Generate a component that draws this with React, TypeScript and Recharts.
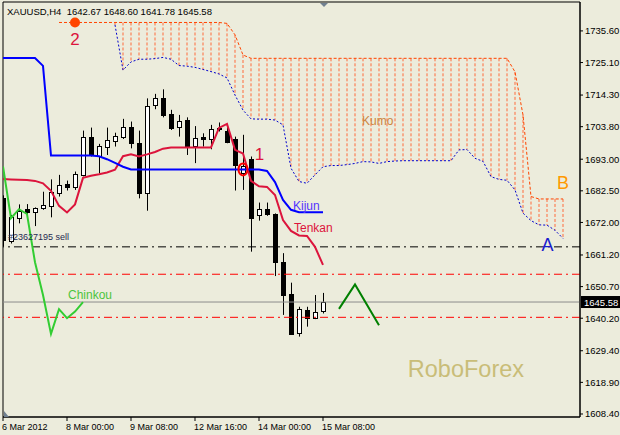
import React from 'react';
import {
    ComposedChart,
    Bar,
    Line,
    XAxis,
    YAxis,
    ReferenceLine,
    ReferenceDot,
    ReferenceArea,
} from 'recharts';

const FONT = "'Liberation Sans', Arial, sans-serif";
const BG = '#ECECDC';

// price axis labels and time labels (bar index -> label)
const priceTicks = [1608.4, 1618.9, 1629.4, 1640.2, 1650.7, 1661.2, 1672.0, 1682.5, 1693.0, 1703.8, 1714.3, 1725.1, 1735.6];
const timeTicks = [0, 8, 16, 24, 32, 40];
const timeLabels = ['6 Mar 2012', '8 Mar 00:00', '9 Mar 08:00', '12 Mar 16:00', '14 Mar 00:00', '15 Mar 08:00'];

// XAUUSD H4 candles, 6 Mar 16:00 .. 15 Mar 08:00
const opens = [
    1680.0, 1666.0, 1673.4, 1676.5, 1675.4, 1676.7, 1677.6, 1681.9, 1684.7, 1683.7,
    1687.8, 1700.5, 1694.1, 1697.2, 1699.2, 1700.5, 1703.8, 1698.5, 1681.9, 1711.0,
    1713.2, 1708.0, 1703.6, 1706.0, 1697.5, 1700.3, 1699.6, 1703.2, 1702.5, 1699.6,
    1688.3, 1693.0, 1674.5, 1676.4, 1674.8, 1658.8, 1648.3, 1635.2, 1642.9, 1640.2,
    1642.67,
];
const highs = [
    1681.0, 1674.5, 1678.0, 1678.1, 1677.0, 1682.2, 1686.3, 1687.8, 1685.9, 1688.9,
    1702.5, 1703.5, 1698.1, 1703.5, 1701.8, 1706.4, 1705.5, 1702.5, 1713.2, 1714.7,
    1716.2, 1709.4, 1707.7, 1706.9, 1704.0, 1701.6, 1704.4, 1705.2, 1704.4, 1700.5,
    1701.1, 1693.9, 1678.6, 1678.6, 1675.0, 1661.8, 1652.0, 1644.0, 1644.0, 1647.9,
    1648.6,
];
const lows = [
    1664.0, 1665.0, 1671.7, 1674.5, 1670.8, 1676.2, 1673.7, 1680.6, 1682.6, 1682.8,
    1687.3, 1693.9, 1688.3, 1694.4, 1697.2, 1699.7, 1696.6, 1680.0, 1675.9, 1709.6,
    1706.9, 1702.7, 1700.5, 1694.4, 1691.7, 1697.2, 1696.3, 1702.2, 1698.3, 1682.6,
    1682.8, 1662.3, 1672.6, 1674.2, 1654.2, 1641.3, 1634.7, 1634.1, 1637.4, 1639.9,
    1641.78,
];
const closes = [
    1666.2, 1673.8, 1675.9, 1675.4, 1676.7, 1677.8, 1682.0, 1684.4, 1683.9, 1688.1,
    1700.5, 1694.4, 1697.4, 1699.4, 1700.7, 1703.6, 1698.3, 1681.9, 1710.7, 1713.2,
    1707.7, 1703.3, 1705.8, 1697.4, 1700.2, 1699.7, 1702.9, 1703.0, 1698.8, 1691.1,
    1690.6, 1673.4, 1676.4, 1674.8, 1658.8, 1647.9, 1635.0, 1643.2, 1640.2, 1642.4,
    1645.58,
];

// Ichimoku lines
const tenkan = [
    1686.4, 1686.3, 1686.2, 1686.1, 1685.8, 1685.0, 1682.5, 1677.5, 1675.3, 1678.0,
    1686.8, 1687.5, 1688.0, 1688.6, 1689.5, 1694.0, 1694.6, 1693.9, 1694.6, 1695.4,
    1696.5, 1696.9, 1696.9, 1696.9, 1696.9, 1696.9, 1696.9, 1703.4, 1704.7, 1696.1,
    1694.9, 1685.8, 1684.0, 1683.8, 1681.1, 1672.8, 1669.2, 1667.7, 1667.5, 1663.9,
    1657.9,
];
const kijun = [
    1726.6, 1726.6, 1726.6, 1726.6, 1726.6, 1724.0, 1694.2, 1694.2, 1694.2, 1694.2,
    1694.2, 1694.2, 1694.0, 1693.0, 1691.8, 1690.5, 1689.6, 1689.6, 1689.6, 1689.6,
    1689.6, 1689.6, 1689.6, 1689.6, 1689.6, 1689.6, 1689.6, 1689.6, 1689.6, 1689.6,
    1689.6, 1689.6, 1689.6, 1689.1, 1685.4, 1679.5, 1676.2, 1675.4, 1675.4, 1675.4,
    1675.4,
];
const chinkou = [1690.6, 1673.4, 1676.4, 1674.8, 1658.8, 1647.9, 1635.0, 1643.2, 1640.2, 1642.4, 1645.58];

const senkouAStart = 14;
const senkouA = [
    1737.6, 1722.6, 1725.3, 1726.2, 1726.2, 1726.4, 1726.8, 1726.2, 1724.1, 1723.9,
    1723.5, 1722.8, 1722.1, 1721.3, 1720.0, 1714.3, 1709.3, 1706.4, 1706.3, 1706.3,
    1706.0, 1704.4, 1690.0, 1685.6, 1685.0, 1687.8, 1690.5, 1690.9, 1690.9, 1691.2,
    1691.6, 1692.2, 1692.1, 1691.6, 1692.2, 1692.4, 1692.5, 1692.5, 1692.5, 1692.5,
    1692.5, 1692.5, 1692.5, 1696.1, 1696.2, 1693.3, 1692.3, 1687.2, 1686.3, 1686.0,
    1682.8, 1675.1, 1672.6, 1671.2, 1671.1, 1669.4, 1666.7,
];
const senkouBStart = 7;
const senkouB = [
    1738.4, 1738.4, 1738.4, 1738.4, 1738.4, 1738.4, 1738.4, 1738.4, 1738.4, 1738.4,
    1738.4, 1738.4, 1738.4, 1738.4, 1738.4, 1738.4, 1738.4, 1738.4, 1738.4, 1738.4,
    1738.4, 1738.1, 1734.3, 1727.6, 1726.5, 1726.5, 1726.5, 1726.5, 1726.5, 1726.5,
    1726.5, 1726.5, 1726.5, 1726.5, 1726.5, 1726.5, 1726.5, 1726.5, 1726.5, 1726.5,
    1726.5, 1726.5, 1726.5, 1726.5, 1726.5, 1726.5, 1726.5, 1726.5, 1726.5, 1726.5,
    1726.5, 1726.5, 1726.5, 1726.5, 1726.5, 1726.5, 1726.5, 1722.0, 1707.7, 1680.6,
    1679.8, 1679.8, 1679.8, 1679.8,
];

// forecast zigzag and order levels
const forecastBars = [42, 44, 47];
const forecastPrices = [1643.3, 1651.4, 1637.9];
const sellLevel = 1663.9;
const redLevels = [1654.8, 1640.5];
const bid = 1645.58;

const LAST_BAR = 70;
const X_MAX = 72.125;
const Y_MIN = 1607.4;
const Y_MAX = 1745.2;

const data = Array.from({ length: LAST_BAR + 1 }, (_, i) => {
    const hasCandle = i < opens.length;
    const a = i >= senkouAStart && i - senkouAStart < senkouA.length ? senkouA[i - senkouAStart] : null;
    const b = i >= senkouBStart && i - senkouBStart < senkouB.length ? senkouB[i - senkouBStart] : null;
    const f = forecastBars.indexOf(i);
    return {
        i,
        open: hasCandle ? opens[i] : null,
        high: hasCandle ? highs[i] : null,
        low: hasCandle ? lows[i] : null,
        close: hasCandle ? closes[i] : null,
        candle: hasCandle ? [lows[i], highs[i]] : null,
        tenkan: i < tenkan.length ? tenkan[i] : null,
        kijun: i < kijun.length ? kijun[i] : null,
        chinkou: i < chinkou.length ? chinkou[i] : null,
        spanA: a,
        spanB: b,
        forecast: f >= 0 ? forecastPrices[f] : null,
    };
});

// kumo hatching: one stroke per bar from span B down to span A
const kumoRows = data.filter((d) => d.spanA != null && d.spanB != null);

// wick + body drawn inside the high-low bar that recharts positions
const Candle = (props: any) => {
    const { x, y, width, height, payload } = props;
    if (!payload || payload.open == null) return null;
    const top = Math.min(y, y + height);
    const h = Math.abs(height);
    const { open, close, high, low } = payload;
    const span = high - low || 1;
    const py = (v: number) => top + ((high - v) / span) * h;
    const cx = Math.round(x + width / 2) + 0.5;
    const bodyTop = Math.round(py(Math.max(open, close))) + 0.5;
    const bodyBot = Math.round(py(Math.min(open, close))) + 0.5;
    const bull = close >= open;
    return (
        <g>
            <line x1={cx} x2={cx} y1={top} y2={top + h} stroke="#000" strokeWidth={1} />
            <rect
                x={cx - 2}
                y={bodyTop}
                width={4}
                height={Math.max(bodyBot - bodyTop, 0.5)}
                fill={bull ? '#fff' : '#000'}
                stroke="#000"
                strokeWidth={1}
            />
        </g>
    );
};

const TimeTick = (props: any) => {
    const { x, y, payload } = props;
    const idx = timeTicks.indexOf(payload.value);
    return (
        <text x={x - 1} y={y} dy={7} fontSize={9} fontFamily={FONT} fill="#000" textAnchor="start">
            {timeLabels[idx]}
        </text>
    );
};

const label = (text: string, style: any) => (p: any) => (
    <text x={p.cx} y={p.cy} fontFamily={FONT} style={{ whiteSpace: 'pre' }} {...style}>
        {text}
    </text>
);

const header = `XAUUSD,H4  ${opens[40].toFixed(2)} ${highs[40].toFixed(2)} ${lows[40].toFixed(2)} ${closes[40].toFixed(2)}`;

const App: React.FC = () => {
    return (
        <div style={{ position: 'absolute', left: 0, top: 0, width: 620, height: 435, background: BG }}>
            <ComposedChart width={620} height={435} data={data} margin={{ top: 2, right: 0, bottom: 0, left: 3 }}>
                <XAxis
                    dataKey="i"
                    type="number"
                    domain={[0, X_MAX]}
                    allowDataOverflow
                    ticks={timeTicks}
                    interval={0}
                    tick={<TimeTick />}
                    tickSize={4}
                    tickMargin={2}
                    height={18}
                    axisLine={{ stroke: '#000' }}
                    tickLine={{ stroke: '#000' }}
                />
                <YAxis
                    orientation="right"
                    type="number"
                    domain={[Y_MIN, Y_MAX]}
                    allowDataOverflow
                    ticks={priceTicks}
                    interval={0}
                    tickFormatter={(v: number) => v.toFixed(2)}
                    tick={{ fontSize: 9.5, fill: '#000', fontFamily: FONT }}
                    tickSize={3}
                    tickMargin={2}
                    width={40}
                    axisLine={{ stroke: '#000' }}
                    tickLine={{ stroke: '#000' }}
                />

                <ReferenceArea x1={0} x2={X_MAX} y1={Y_MIN} y2={Y_MAX} fill="none" stroke="#000" ifOverflow="visible" />

                {kumoRows.map((d) => (
                    <ReferenceLine
                        key={`kumo-${d.i}`}
                        segment={[
                            { x: d.i, y: Math.max(d.spanA as number, d.spanB as number) },
                            { x: d.i, y: Math.min(d.spanA as number, d.spanB as number) },
                        ]}
                        stroke="#FF6A3A"
                        strokeWidth={1}
                        strokeDasharray="3 2"
                    />
                ))}

                <ReferenceLine y={sellLevel} stroke="#000" strokeDasharray="8 4 2 4" />
                {redLevels.map((v) => (
                    <ReferenceLine key={v} y={v} stroke="#FF0000" strokeDasharray="8 4 2 4" />
                ))}
                <ReferenceLine y={bid} stroke="#8C8C8C" />

                <Line dataKey="spanB" stroke="#FF4500" strokeDasharray="3 2" dot={false} activeDot={false} isAnimationActive={false} />
                <Line dataKey="spanA" stroke="#0000CD" strokeDasharray="2 2" dot={false} activeDot={false} isAnimationActive={false} />

                <Bar dataKey="candle" barSize={5} shape={<Candle />} isAnimationActive={false} />

                <Line dataKey="tenkan" stroke="#DC143C" strokeWidth={2} dot={false} activeDot={false} isAnimationActive={false} />
                <Line dataKey="kijun" stroke="#0000FF" strokeWidth={2} dot={false} activeDot={false} isAnimationActive={false} />
                <Line dataKey="chinkou" stroke="#32CD32" strokeWidth={2} dot={false} activeDot={false} isAnimationActive={false} />
                <Line dataKey="forecast" stroke="#008000" strokeWidth={2} connectNulls dot={false} activeDot={false} isAnimationActive={false} />

                {/* annotations */}
                <ReferenceDot x={0.5} y={1740.9} ifOverflow="visible" shape={label(header, { fontSize: 9.5, fill: '#000' })} />
                <ReferenceDot x={0.625} y={1666.2} ifOverflow="visible" shape={label('#23627195 sell', { fontSize: 9, fill: '#1F2A50' })} />
                <ReferenceDot x={9} y={1738.4} r={5} fill="#FF4500" stroke="none" ifOverflow="visible" />
                <ReferenceDot x={9} y={1730.9} ifOverflow="visible" shape={label('2', { fontSize: 17, fill: '#DC143C', textAnchor: 'middle' })} />
                <ReferenceDot x={32.06} y={1692.7} ifOverflow="visible" shape={label('1', { fontSize: 17, fill: '#DC143C', textAnchor: 'middle' })} />
                <ReferenceDot
                    x={30}
                    y={1689.6}
                    ifOverflow="visible"
                    shape={(p: any) => <ellipse cx={p.cx} cy={p.cy} rx={4.5} ry={6} fill="none" stroke="#FF0000" strokeWidth={2} />}
                />
                <ReferenceDot x={44.875} y={1704.4} ifOverflow="visible" shape={label('Kumo', { fontSize: 12, fill: '#CD853F' })} />
                <ReferenceDot x={36.25} y={1676.1} ifOverflow="visible" shape={label('Kijun', { fontSize: 12, fill: '#5533FF' })} />
                <ReferenceDot x={36.375} y={1668.8} ifOverflow="visible" shape={label('Tenkan', { fontSize: 12, fill: '#DC143C' })} />
                <ReferenceDot x={8.125} y={1646.6} ifOverflow="visible" shape={label('Chinkou', { fontSize: 12, fill: '#4CC43C' })} />
                <ReferenceDot x={70} y={1683.1} ifOverflow="visible" shape={label('B', { fontSize: 18, fill: '#FF9900', textAnchor: 'middle' })} />
                <ReferenceDot x={68.06} y={1662.5} ifOverflow="visible" shape={label('A', { fontSize: 18, fill: '#1A1ACD', textAnchor: 'middle' })} />
                <ReferenceDot x={50.6} y={1620.7} ifOverflow="visible" shape={label('RoboForex', { fontSize: 23.5, fill: '#C9BD78' })} />
                <ReferenceDot
                    x={40.125}
                    y={Y_MAX}
                    ifOverflow="visible"
                    shape={(p: any) => <polygon points={`${p.cx - 4},${p.cy + 1} ${p.cx + 4},${p.cy + 1} ${p.cx},${p.cy + 5}`} fill="#708090" />}
                />
                <ReferenceDot
                    x={0}
                    y={Y_MIN}
                    ifOverflow="visible"
                    shape={(p: any) => <polygon points={`${p.cx + 1},${p.cy - 6} ${p.cx + 1},${p.cy} ${p.cx + 6},${p.cy}`} fill="#708090" />}
                />
                <ReferenceDot
                    x={X_MAX}
                    y={bid}
                    ifOverflow="visible"
                    shape={(p: any) => (
                        <g>
                            <rect x={p.cx + 1} y={p.cy - 6} width={40} height={12} fill="#000" />
                            <text x={p.cx + 4} y={p.cy + 3.5} fontSize={9.5} fontFamily={FONT} fill="#fff">
                                {bid.toFixed(2)}
                            </text>
                        </g>
                    )}
                />
            </ComposedChart>
        </div>
    );
};

export default App;
